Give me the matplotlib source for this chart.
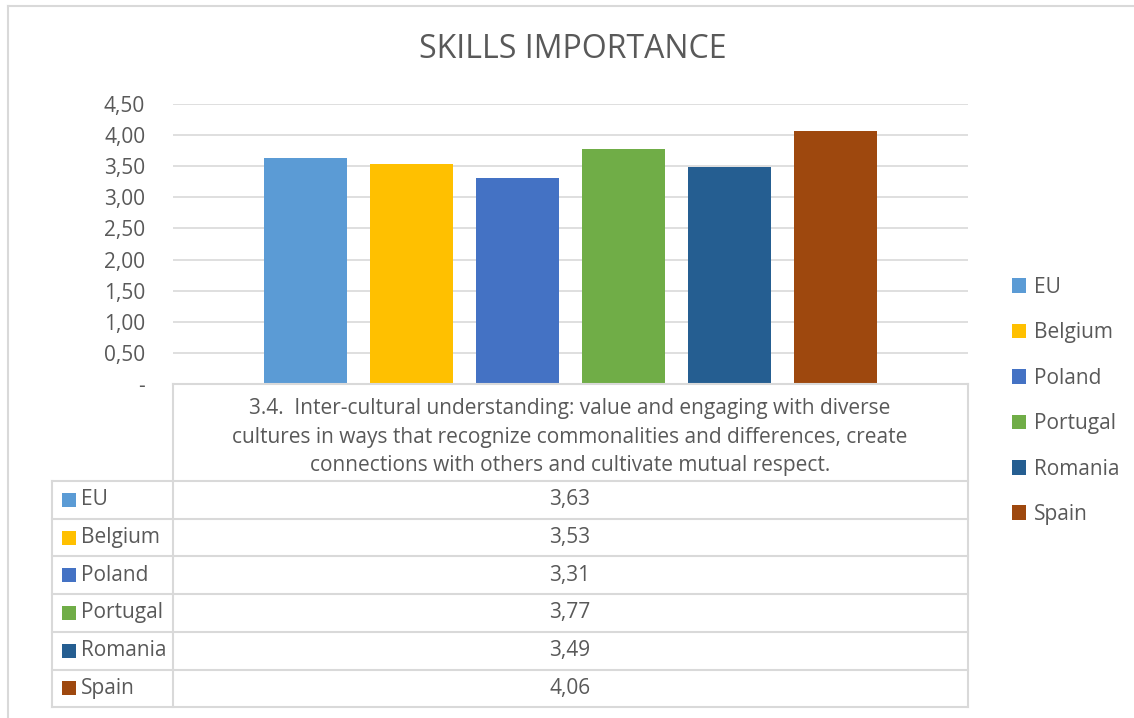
import numpy as np
import matplotlib.pyplot as plt
from matplotlib.lines import Line2D
from matplotlib.patches import Rectangle

plt.rcParams['font.family'] = ['Open Sans', 'DejaVu Sans']

countries = ['EU', 'Belgium', 'Poland', 'Portugal', 'Romania', 'Spain']
values = [3.63, 3.53, 3.31, 3.77, 3.49, 4.06]
colors = ['#5B9BD5', '#FFC000', '#4472C4', '#70AD47', '#255E91', '#9E480E']
yticks = [0, 0.5, 1, 1.5, 2, 2.5, 3, 3.5, 4, 4.5]
ytick_labels = ['-', '0,50', '1,00', '1,50', '2,00', '2,50', '3,00', '3,50', '4,00', '4,50']
header = ('3.4.  Inter-cultural understanding: value and engaging with diverse\n'
          'cultures in ways that recognize commonalities and differences, create\n'
          'connections with others and cultivate mutual respect.')

W, H = 1134, 718
txt = '#595959'
grid = '#D9D9D9'
fs = 15

def fx(x):
    return x / W

def fy(y):
    return 1 - y / H

fig = plt.figure(figsize=(W / 100, H / 100), dpi=100)

ax = fig.add_axes([fx(173), fy(384), fx(968) - fx(173), fy(104) - fy(384)])
x = np.arange(len(countries))
bars = ax.bar(x, values, width=0.79, color=colors, zorder=3)
ax.set_xlim(-1.25, 6.25)
ax.set_ylim(0, 4.5)
ax.set_yticks(yticks)
ax.set_yticklabels(ytick_labels)
ax.tick_params(axis='y', length=0, pad=20, labelsize=fs, labelcolor=txt)
ax.set_xticks([])
ax.grid(axis='y', color=grid, linewidth=1.2, zorder=0)
for s in ax.spines.values():
    s.set_visible(False)

fig.text(fx(573), fy(50), 'SKILLS IMPORTANCE', ha='center', va='center',
         fontsize=23, color=txt)

# legend
fig.legend(bars, countries, loc='center left',
           bbox_to_anchor=(fx(993), fy(401)), frameon=False,
           fontsize=fs, labelcolor=txt, handlelength=0.7, handleheight=0.7,
           handletextpad=0.35, labelspacing=1.17)

# data table under the axis
def hline(y, x0, x1):
    fig.add_artist(Line2D([fx(x0), fx(x1)], [fy(y), fy(y)], color=grid, lw=1.5))

def vline(x, y0, y1):
    fig.add_artist(Line2D([fx(x), fx(x)], [fy(y0), fy(y1)], color=grid, lw=1.5))

row_top = 481
row_h = 37.7
hline(384, 173, 968)
for i in range(len(countries) + 1):
    hline(row_top + i * row_h, 52, 968)
bottom = row_top + len(countries) * row_h
vline(173, 384, bottom)
vline(968, 384, bottom)
vline(52, row_top, bottom)

fig.text(fx(570), fy(437), header, ha='center', va='center', fontsize=fs,
         color=txt, linespacing=1.47)

for i, (c, v, col) in enumerate(zip(countries, values, colors)):
    yc = row_top + (i + 0.5) * row_h
    fig.add_artist(Rectangle((fx(62), fy(yc + 7)), fx(14), fy(0) - fy(14),
                             facecolor=col, edgecolor='none'))
    fig.text(fx(81), fy(yc), c, ha='left', va='center', fontsize=fs, color=txt)
    fig.text(fx(570), fy(yc), f'{v:.2f}'.replace('.', ','), ha='center',
             va='center', fontsize=fs, color=txt)

# outer chart border
vline(8, 6, 718)
hline(6, 8, 1134)

fig.savefig('out.png', dpi=100)
